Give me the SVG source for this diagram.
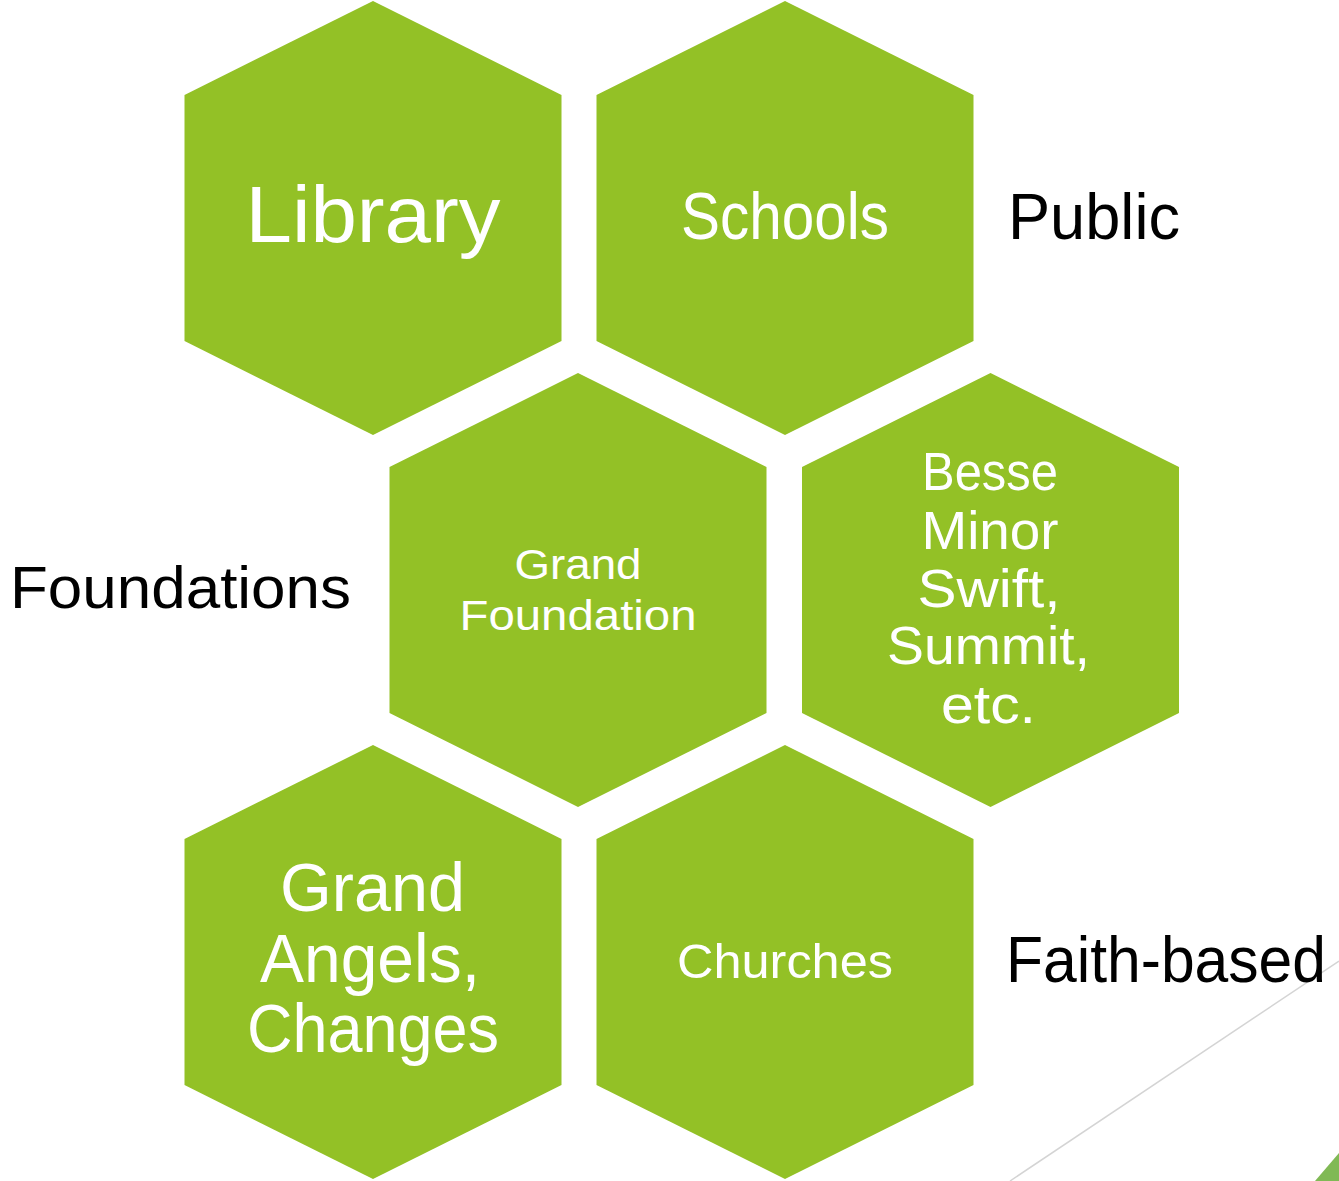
<svg xmlns="http://www.w3.org/2000/svg" width="1339" height="1181" viewBox="0 0 1339 1181">
<style>
.hex{fill:#93C126;}
.w{fill:#FFFFFF;font-family:"Liberation Sans",Arial,sans-serif;text-anchor:middle;}
.b{fill:#000000;font-family:"Liberation Sans",Arial,sans-serif;}
</style>
<defs>
<polygon id="hx" points="188.5,0 377,94 377,340 188.5,434 0,340 0,94"/>
</defs>
<rect width="1339" height="1181" fill="#FFFFFF"/>
<g id="deco">
<line x1="1010" y1="1181" x2="1339" y2="961" stroke="#D4D4D4" stroke-width="1.5"/>
<polygon points="1315,1181 1339,1153 1339,1181" fill="#80B955"/>
</g>
<g id="library">
<use href="#hx" class="hex" x="184.5" y="1"/>
<text class="w" x="373" y="242" font-size="80" textLength="255" lengthAdjust="spacingAndGlyphs">Library</text>
</g>
<g id="schools">
<use href="#hx" class="hex" x="596.5" y="1"/>
<text class="w" x="785" y="239" font-size="66" textLength="208" lengthAdjust="spacingAndGlyphs">Schools</text>
</g>
<g id="grand-foundation">
<use href="#hx" class="hex" x="389.5" y="373"/>
<text class="w" x="578" y="579" font-size="43" textLength="127" lengthAdjust="spacingAndGlyphs">Grand</text>
<text class="w" x="578" y="630" font-size="43" textLength="237" lengthAdjust="spacingAndGlyphs">Foundation</text>
</g>
<g id="besse">
<use href="#hx" class="hex" x="802" y="373"/>
<text class="w" x="990" y="490" font-size="53" textLength="136" lengthAdjust="spacingAndGlyphs">Besse</text>
<text class="w" x="990" y="549" font-size="53" textLength="137" lengthAdjust="spacingAndGlyphs">Minor</text>
<text class="w" x="989" y="607" font-size="53" textLength="143" lengthAdjust="spacingAndGlyphs">Swift,</text>
<text class="w" x="988.5" y="664" font-size="53" textLength="203" lengthAdjust="spacingAndGlyphs">Summit,</text>
<text class="w" x="988.5" y="723" font-size="53" textLength="95" lengthAdjust="spacingAndGlyphs">etc.</text>
</g>
<g id="grand-angels">
<use href="#hx" class="hex" x="184.5" y="745"/>
<text class="w" x="372.5" y="911" font-size="68" textLength="185" lengthAdjust="spacingAndGlyphs">Grand</text>
<text class="w" x="370" y="982" font-size="68" textLength="220" lengthAdjust="spacingAndGlyphs">Angels,</text>
<text class="w" x="373" y="1052" font-size="68" textLength="252" lengthAdjust="spacingAndGlyphs">Changes</text>
</g>
<g id="churches">
<use href="#hx" class="hex" x="596.5" y="745"/>
<text class="w" x="785" y="978" font-size="49" textLength="216" lengthAdjust="spacingAndGlyphs">Churches</text>
</g>
<g id="labels">
<text class="b" x="1008" y="239" font-size="64" textLength="172" lengthAdjust="spacingAndGlyphs">Public</text>
<text class="b" x="10" y="608" font-size="60" textLength="341" lengthAdjust="spacingAndGlyphs">Foundations</text>
<text class="b" x="1006" y="982" font-size="64" textLength="320" lengthAdjust="spacingAndGlyphs">Faith-based</text>
</g>
</svg>
